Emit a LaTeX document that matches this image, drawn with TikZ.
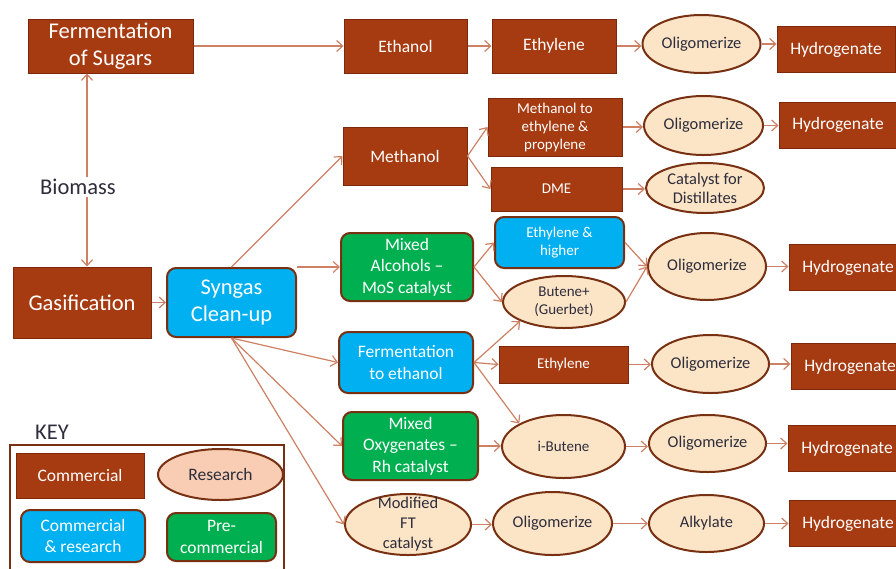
\documentclass[tikz,border=0pt]{standalone}
\usepackage{fontspec}
\setmainfont{Carlito}
\usepackage{tikz}
\usetikzlibrary{shapes.geometric, arrows.meta, positioning}

\definecolor{brn}{RGB}{166,58,16}
\definecolor{brnd}{RGB}{125,40,10}
\definecolor{edge}{RGB}{120,48,18}
\definecolor{peach}{RGB}{252,228,198}
\definecolor{rosy}{RGB}{248,205,180}
\definecolor{cyanb}{RGB}{0,176,240}
\definecolor{grn}{RGB}{0,176,80}
\definecolor{lnk}{RGB}{205,128,100}
\definecolor{ink}{RGB}{45,45,60}

\tikzset{
  fbig/.style={font=\fontsize{22.5}{27}\selectfont},
  fmed/.style={font=\fontsize{17.5}{21.5}\selectfont},
  fsml/.style={font=\fontsize{15}{18}\selectfont},
  fell/.style={font=\fontsize{16.4}{20}\selectfont},
  comm/.style={rectangle, fill=brn, draw=brnd, line width=1pt, text=white, inner sep=0pt, align=center},
  resr/.style={ellipse, fill=peach, draw=edge, line width=2pt, inner sep=0pt},
  etxt/.style={text=ink, inner sep=0pt, align=center},
  cr/.style={rectangle, rounded corners=9pt, fill=cyanb, draw=edge, line width=2pt, text=white, inner sep=0pt, align=center},
  prec/.style={cr, fill=grn},
  arr/.style={draw=lnk, line width=1.2pt, -{Straight Barb[length=6pt,width=11pt]}}
}

\begin{document}
\begin{tikzpicture}[x=1pt, y=-1pt]

  \useasboundingbox (0,0) rectangle (896,568);
  \clip (0,0) rectangle (896,568);

  % Feedstock
  \node[comm, fbig, minimum width=165, minimum height=54] (fsug) at (110.5,46) {Fermentation\\of Sugars};
  \node[fbig, text=ink, inner sep=2pt] (bio) at (78,187) {Biomass};
  \node[comm, fbig, minimum width=138, minimum height=71] (gas) at (82,302.5) {Gasification};
  \node[cr, fbig, minimum width=129, minimum height=69] (syn) at (231.5,302.5) {Syngas\\Clean-up};

  % Ethanol route
  \node[comm, fmed, minimum width=123, minimum height=54] (eth) at (405.5,46) {Ethanol};
  \node[comm, fmed, minimum width=124, minimum height=54] (ethy) at (554,46) {Ethylene};
  \node[resr, minimum width=118, minimum height=58, label={[etxt, fell]center:Oligomerize}] (olig1) at (701.5,44) {};

  % Methanol route
  \node[comm, fmed, minimum width=124, minimum height=58] (meth) at (405,156) {Methanol};
  \node[comm, fsml, minimum width=134, minimum height=58] (mte) at (555,127) {Methanol to\\ethylene \&\\propylene};
  \node[comm, fsml, minimum width=131, minimum height=44] (dme) at (556.5,189) {DME};
  \node[resr, minimum width=119, minimum height=59, label={[etxt, fell]center:Oligomerize}] (olig2) at (703.5,125.5) {};
  \node[resr, minimum width=118, minimum height=50, label={[etxt, font=\fontsize{16.4}{19}\selectfont]center:{Catalyst for\\Distillates}}] (catd) at (705,188) {};

  % Mixed alcohols route
  \node[prec, fmed, minimum width=132, minimum height=68] (malc) at (407,267) {Mixed\\Alcohols --\\MoS catalyst};
  \node[cr, fsml, minimum width=129, minimum height=51] (ethh) at (559.5,242.5) {Ethylene \&\\higher};
  \node[resr, minimum width=122, minimum height=52, label={[etxt, fsml]center:{Butene+\\(Guerbet)}}] (but) at (564,302) {};
  \node[resr, minimum width=118, minimum height=67, label={[etxt, fell]center:Oligomerize}] (olig3) at (707,266.5) {};

  % Fermentation to ethanol route
  \node[cr, fmed, minimum width=134, minimum height=61] (fete) at (406,362.5) {Fermentation\\to ethanol};
  \node[comm, fsml, minimum width=129, minimum height=37] (eth2) at (563.5,364.5) {Ethylene};
  \node[resr, minimum width=117, minimum height=58, label={[etxt, fell]center:Oligomerize}] (olig4) at (710.5,364) {};

  % Mixed oxygenates route
  \node[prec, fmed, minimum width=135, minimum height=68] (moxy) at (410.5,446) {Mixed\\Oxygenates --\\Rh catalyst};
  \node[resr, minimum width=123, minimum height=63, label={[etxt, fsml]center:i-Butene}] (ibut) at (563.5,446.5) {};
  \node[resr, minimum width=117, minimum height=57, label={[etxt, fell]center:Oligomerize}] (olig5) at (707.5,443.5) {};

  % Modified FT route
  \node[resr, minimum width=126, minimum height=61, label={[etxt, fell]center:{Modified\\FT\\catalyst}}] (mft) at (408,524.5) {};
  \node[resr, minimum width=119, minimum height=63, label={[etxt, fell]center:Oligomerize}] (olig6) at (552.5,523.5) {};
  \node[resr, minimum width=115, minimum height=57, label={[etxt, fell]center:Alkylate}] (alk) at (706.5,523.5) {};

  % Hydrogenate column
  \foreach \n/\x/\y in {h1/836/49.5, h2/838/125, h3/848/267.5, h4/850/366.5, h5/847/448.5, h6/848/523.5}{
    \node[comm, fmed, minimum width=118, minimum height=46] (\n) at (\x,\y) {Hydrogenate};
  }

  % Connectors
  \coordinate (bioup) at ([xshift=9pt]bio.north);
  \coordinate (biodn) at ([xshift=9pt]bio.south);
  \draw[arr] (bioup) -- (bioup |- fsug.south);
  \draw[arr] (biodn) -- (biodn |- gas.north);
  \draw[arr] (gas) -- (gas -| syn.west);
  \draw[arr] (syn.north) -- (meth.west);
  \draw[arr] (syn.north east) -- (malc.west);
  \foreach \b in {fete.west, moxy.west, mft.west}
    \draw[arr] (syn.south) -- (\b);

  \foreach \a/\b in {fsug/eth, eth/ethy, ethy/olig1, mte/olig2, dme/catd, eth2/olig4,
                     moxy/ibut, ibut/olig5, mft/olig6, olig6/alk,
                     olig1/h1, olig2/h2, olig3/h3, olig4/h4, olig5/h5, alk/h6}
    \draw[arr] (\a) -- (\a -| \b.west);

  \draw[arr] (meth.east) -- (mte.west);
  \draw[arr] (meth.east) -- (dme.west);
  \draw[arr] (malc.east) -- (ethh.west);
  \draw[arr] (malc.east) -- (but.west);
  \draw[arr] (ethh.east) -- (olig3.west);
  \draw[arr] (but.east) -- (olig3.west);
  \draw[arr] (fete.east) -- (but.south west);
  \draw[arr] (fete.east) -- (eth2.west);
  \draw[arr] (fete.east) -- (ibut.north west);

  % Key
  \node[fbig, text=ink] (keyt) at (52,432) {KEY};
  \draw[draw=edge, line width=1.5pt] (10,445) rectangle (284,600);
  \node[comm, fmed, minimum width=128, minimum height=45] (kcom) at (80,475.5) {Commercial};
  \node[resr, fill=rosy, minimum width=125, minimum height=51, label={[etxt, fmed]center:Research}] (kres) at (220.5,474.5) {};
  \node[cr, fmed, minimum width=124, minimum height=52] (kcr) at (83,536) {Commercial\\\& research};
  \node[prec, fmed, minimum width=109, minimum height=48] (kpre) at (221.5,537) {Pre-\\commercial};

\end{tikzpicture}
\end{document}
